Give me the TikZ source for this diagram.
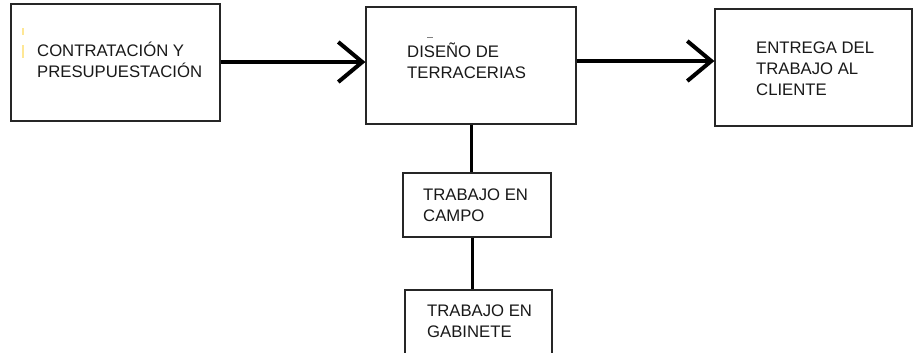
\documentclass[tikz,border=0pt]{standalone}
\usepackage{fontspec}
\setmainfont{Liberation Sans}
\usetikzlibrary{arrows.meta}

\begin{document}
\begin{tikzpicture}[x=1bp, y=-1bp,
    caja/.style={draw=black!85, line width=1.2bp, inner sep=0pt},
    texto/.style={anchor=base west, align=left, inner sep=0pt, text=black!90,
      font=\fontsize{16.7bp}{21bp}\selectfont},
    flecha/.style={line width=4bp, -{Straight Barb[length=24bp, width=40bp, line width=4bp]}},
    linea/.style={line width=3bp}]
    \useasboundingbox[fill=white] (0,0) rectangle (915,352);
    % cajas
    \node [caja, minimum width=209bp, minimum height=117bp] (contrat) at (115.5,62.5) {};
    \node [caja, minimum width=210bp, minimum height=117bp] (diseno) at (471,65.5) {};
    \node [caja, minimum width=197bp, minimum height=117bp] (entrega) at (813.5,67.5) {};
    \node [caja, minimum width=148bp, minimum height=64bp] (campo) at (477,205) {};
    \node [caja, minimum width=147bp, minimum height=64bp] (gabinete) at (478.5,322) {};
    % textos (base = ultima linea)
    \node [texto] (tcontrat) at (37,77) {CONTRATACIÓN Y\\PRESUPUESTACIÓN};
    \node [texto] (tdiseno) at (407,78) {DISEÑO DE\\TERRACERIAS};
    \node [texto] (tentrega) at (756,95) {ENTREGA DEL\\TRABAJO AL\\CLIENTE};
    \node [texto] (tcampo) at (423,221) {TRABAJO EN\\CAMPO};
    \node [texto] (tgabinete) at (427,337) {TRABAJO EN\\GABINETE};
    % restos
    \draw [yellow!60!orange!40, line width=1.5bp] (23,28) -- (23,35) (23,45) -- (23,58);
    \draw [black!50, line width=1bp] (427,37) -- (433,37);
    % conectores
    \draw [flecha] ([yshift=0.5pt]contrat.east) -- ([yshift=0.5pt]contrat.east -| diseno.west);
    \draw [flecha] ([yshift=4.5pt]diseno.east) -- ([yshift=4.5pt]diseno.east -| entrega.west);
    \draw [linea] (diseno.south) -- (diseno.south |- campo.north);
    \draw [linea] ([xshift=-5bp]campo.south) -- ([xshift=-5bp]campo.south |- gabinete.north);
\end{tikzpicture}
\end{document}
